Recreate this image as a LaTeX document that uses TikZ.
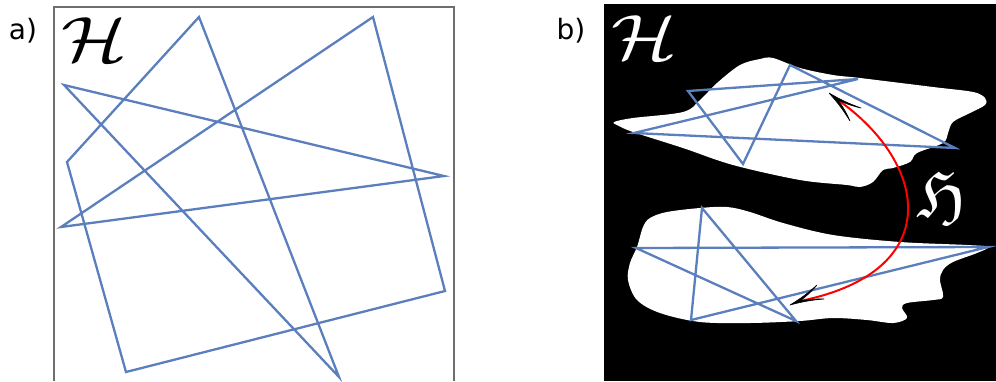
\documentclass[tikz,border=0pt]{standalone}
\usepackage{amssymb}
\usepackage{fontspec}
\setmainfont{DejaVu Sans}
\definecolor{pathblue}{RGB}{91,126,189}
\definecolor{framegray}{RGB}{110,110,110}
\tikzset{
  walk/.style={draw=pathblue, line width=2.3pt, line join=miter},
  blob/.style={fill=white, draw=none},
  panellabel/.style={inner sep=0pt, font=\fontsize{28}{32}\selectfont},
  spacesym/.style={inner sep=0pt, xscale=7.7, yscale=6.4, anchor=base},
  tiphead/.style={fill=black, draw=black, line width=0.6pt, line join=round},
}
\begin{document}
\begin{tikzpicture}[x=1pt,y=-1pt]
\useasboundingbox (0,0) rectangle (996,381);
% ---------- panel a ----------
\node[panellabel] (la) at (23,31) {a)};
\draw[framegray, line width=2pt] (54,381) -- (54,7) -- (454,7) -- (454,381);
\node[spacesym] (Ha) at (94,61) {$\mathcal{H}$};
\coordinate (A) at (64,85);
\coordinate (B) at (199,17);
\coordinate (C) at (67,162);
\coordinate (D) at (373,17);
\coordinate (E) at (61,227);
\coordinate (F) at (444,176);
\coordinate (G) at (445,291);
\coordinate (H) at (126,372);
\coordinate (I) at (339,377);
\draw[walk] (A) -- (F) -- (E) -- (D) -- (G) -- (H) -- (C) -- (B) -- (I) -- cycle;
% ---------- panel b ----------
\node[panellabel] (lb) at (571,31) {b)};
\fill[black] (604,4) rectangle (996,381);
\node[spacesym, text=white] (Hb) at (644,59) {$\mathcal{H}$};
% top blob
\fill[blob] plot[smooth cycle, tension=0.55] coordinates {
 (614,122) (633,118) (683,112) (700,100) (717,83) (740,65) (760,59) (773,58)
 (800,68) (833,75) (860,78) (933,87) (973,92) (985,98) (985,105) (970,113)
 (953,122) (948,133) (943,143) (917,153) (910,162) (893,168) (883,170)
 (873,182) (860,187) (847,185) (800,180) (733,165) (683,148) (633,132) (617,125)};
% bottom blob
\fill[blob] plot[smooth cycle, tension=0.55] coordinates {
 (650,218) (667,212) (700,208) (727,207) (750,212) (783,223) (833,235) (900,242)
 (967,245) (988,247) (977,253) (953,262) (943,270) (940,280) (943,297) (933,300)
 (907,303) (902,308) (907,318) (893,323) (867,320) (833,318) (800,321) (750,323)
 (700,322) (660,313) (637,300) (628,280) (630,263) (637,247) (643,227)};
% top walk
\coordinate (P1) at (688,91);
\coordinate (P2) at (743,164);
\coordinate (P3) at (790,65);
\coordinate (P4) at (955,148);
\coordinate (P5) at (634,133);
\coordinate (P6) at (858,79);
\draw[walk] (P1) -- (P2) -- (P3) -- (P4) -- (P5) -- (P6) -- cycle;
% bottom walk
\coordinate (Q1) at (702,208);
\coordinate (Q2) at (796,321);
\coordinate (Q3) at (636,248);
\coordinate (Q4) at (988,247);
\coordinate (Q5) at (691,320);
\draw[walk] (Q1) -- (Q2) -- (Q3) -- (Q4) -- (Q5) -- cycle;
% map arrow
\coordinate (ttip) at (829,93);
\coordinate (tbarbA) at (850,121);
\coordinate (tbarbB) at (861,108);
\coordinate (tnotch) at (838,100);
\coordinate (btip) at (790,305);
\coordinate (bbarbA) at (817,285);
\coordinate (bbarbB) at (824,299);
\coordinate (bnotch) at (800,301);
\draw[red, line width=2pt] (tnotch) .. controls (930,165) and (945,272) .. (bnotch);
\fill[tiphead] (ttip) to[bend left=5] (tbarbA) to[bend right=6] (tnotch)
  to[bend right=6] (tbarbB) to[bend left=5] cycle;
\fill[tiphead] (btip) to[bend right=5] (bbarbA) to[bend left=6] (bnotch)
  to[bend left=6] (bbarbB) to[bend right=5] cycle;
\node[inner sep=0pt, scale=6.8, text=white] (frak) at (942,196) {$\mathfrak{H}$};
\end{tikzpicture}
\end{document}
